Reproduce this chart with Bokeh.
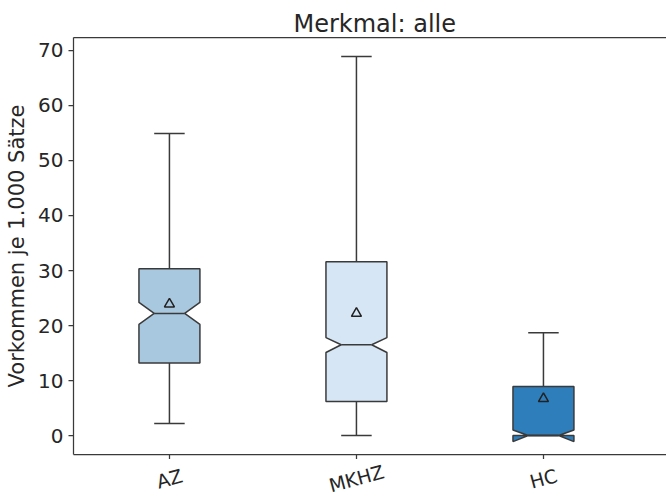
import math
from bokeh.plotting import figure
from bokeh.layouts import column
from bokeh.models import FixedTicker, LinearAxis, Range1d
from bokeh.core.properties import value
from bokeh.embed import file_html
from bokeh.resources import INLINE

# ---- data ----
categories = ["AZ", "MKHZ", "HC"]
q1 = [13.2, 6.2, 0.0]
median = [22.2, 16.5, 0.0]
q3 = [30.3, 31.6, 8.9]
notch_lo = [20.2, 15.1, -1.1]
notch_hi = [24.2, 17.8, 1.0]
whisker_lo = [2.2, 0.0, 0.0]
whisker_hi = [54.9, 68.9, 18.7]
means = [23.9, 22.2, 6.7]
y_ticks = [0, 10, 20, 30, 40, 50, 60, 70]
colors = ["#a8c8e0", "#d6e6f4", "#2f7ebc"]
title_text = "Merkmal: alle"
y_label = "Vorkommen je 1.000 Sätze"

# ---- style ----
FONT = "DejaVu Sans"
TXT = "#262626"
EDGE = "#3a3a3a"
BOX_W = 0.326
hw = BOX_W / 2
nw = hw / 2
cw = hw / 2
X_START, X_END = 0.487, 3.658
Y_START, Y_END = -3.45, 72.36
W, H_MAIN, H_LAB = 666, 459, 38

pos = [i + 1 for i in range(len(categories))]

p = figure(width=W, height=H_MAIN, output_backend="svg", toolbar_location=None,
           x_range=Range1d(X_START, X_END), y_range=Range1d(Y_START, Y_END),
           min_border_left=73, min_border_right=0, min_border_top=37, min_border_bottom=5)
p.background_fill_color = "white"
p.border_fill_color = "white"
p.outline_line_color = None
p.grid.visible = False

p.title.text = title_text
p.title.text_font = FONT
p.title.text_font_size = "24px"
p.title.text_font_style = "normal"
p.title.text_color = TXT
p.title.align = "left"
p.title.offset = 220
p.title.standoff = 0

# boxes
xs, ys = [], []
for x, a, nl, m, nh, b in zip(pos, q1, notch_lo, median, notch_hi, q3):
    xs.append([x - hw, x - hw, x - nw, x - hw, x - hw, x + hw, x + hw, x + nw, x + hw, x + hw])
    ys.append([a, nl, m, nh, b, b, nh, m, nl, a])
p.patches(xs=xs, ys=ys, fill_color=colors, line_color=EDGE, line_width=1.5)

# whiskers
p.segment(x0=pos, y0=q3, x1=pos, y1=whisker_hi, line_color=EDGE, line_width=1.5)
p.segment(x0=pos, y0=q1, x1=pos, y1=whisker_lo, line_color=EDGE, line_width=1.5)
# caps
p.segment(x0=[x - cw for x in pos], y0=whisker_hi, x1=[x + cw for x in pos], y1=whisker_hi,
          line_color=EDGE, line_width=1.5)
p.segment(x0=[x - cw for x in pos], y0=whisker_lo, x1=[x + cw for x in pos], y1=whisker_lo,
          line_color=EDGE, line_width=1.5)
# medians
p.segment(x0=[x - nw for x in pos], y0=median, x1=[x + nw for x in pos], y1=median,
          line_color=EDGE, line_width=1.5)
# means
p.scatter(x=pos, y=means, marker="triangle", size=10, fill_color=None,
          line_color="#222222", line_width=1.5)

# axes
for ax in (p.xaxis[0], p.yaxis[0]):
    ax.axis_line_color = EDGE
    ax.axis_line_width = 1.25
    ax.major_tick_line_color = EDGE
    ax.major_tick_line_width = 1.25
    ax.major_tick_out = 5
    ax.major_tick_in = 0
    ax.minor_tick_line_color = None
    ax.major_label_text_font = FONT
    ax.major_label_text_font_size = "20px"
    ax.major_label_text_color = TXT
    ax.major_label_standoff = 5

# x axis: ticks only (rotated, centred names are drawn in the strip below)
p.xaxis.ticker = FixedTicker(ticks=pos)
p.xaxis.major_label_overrides = {x: "" for x in pos}
p.xaxis.major_label_text_font_size = "0px"
p.xaxis.major_label_standoff = 0

p.yaxis.ticker = FixedTicker(ticks=y_ticks)
p.yaxis.axis_label = y_label
p.yaxis.axis_label_text_font = FONT
p.yaxis.axis_label_text_font_size = "21px"
p.yaxis.axis_label_text_font_style = "normal"
p.yaxis.axis_label_text_color = TXT
p.yaxis.axis_label_standoff = 6

top = LinearAxis(ticker=FixedTicker(ticks=[]), axis_line_color=EDGE, axis_line_width=1.25,
                 major_tick_line_color=None, minor_tick_line_color=None)
p.add_layout(top, "above")

# strip with the category names, sharing the x scale of the main plot
lab = figure(width=W, height=H_LAB, output_backend="svg", toolbar_location=None,
             x_range=p.x_range, y_range=Range1d(0, 1), x_axis_type=None, y_axis_type=None,
             min_border_left=73, min_border_right=0, min_border_top=0, min_border_bottom=0)
lab.outline_line_color = None
lab.grid.visible = False
lab.background_fill_color = "white"
lab.border_fill_color = "white"
lab.text(x=pos, y=[0.5] * len(pos), text=categories, angle=math.radians(15),
         text_align="center", text_baseline="middle",
         text_font=value(FONT), text_font_size=value("19px"), text_color=TXT)

layout = column(p, lab, spacing=0)
open("out.html", "w").write(file_html(layout, INLINE))
